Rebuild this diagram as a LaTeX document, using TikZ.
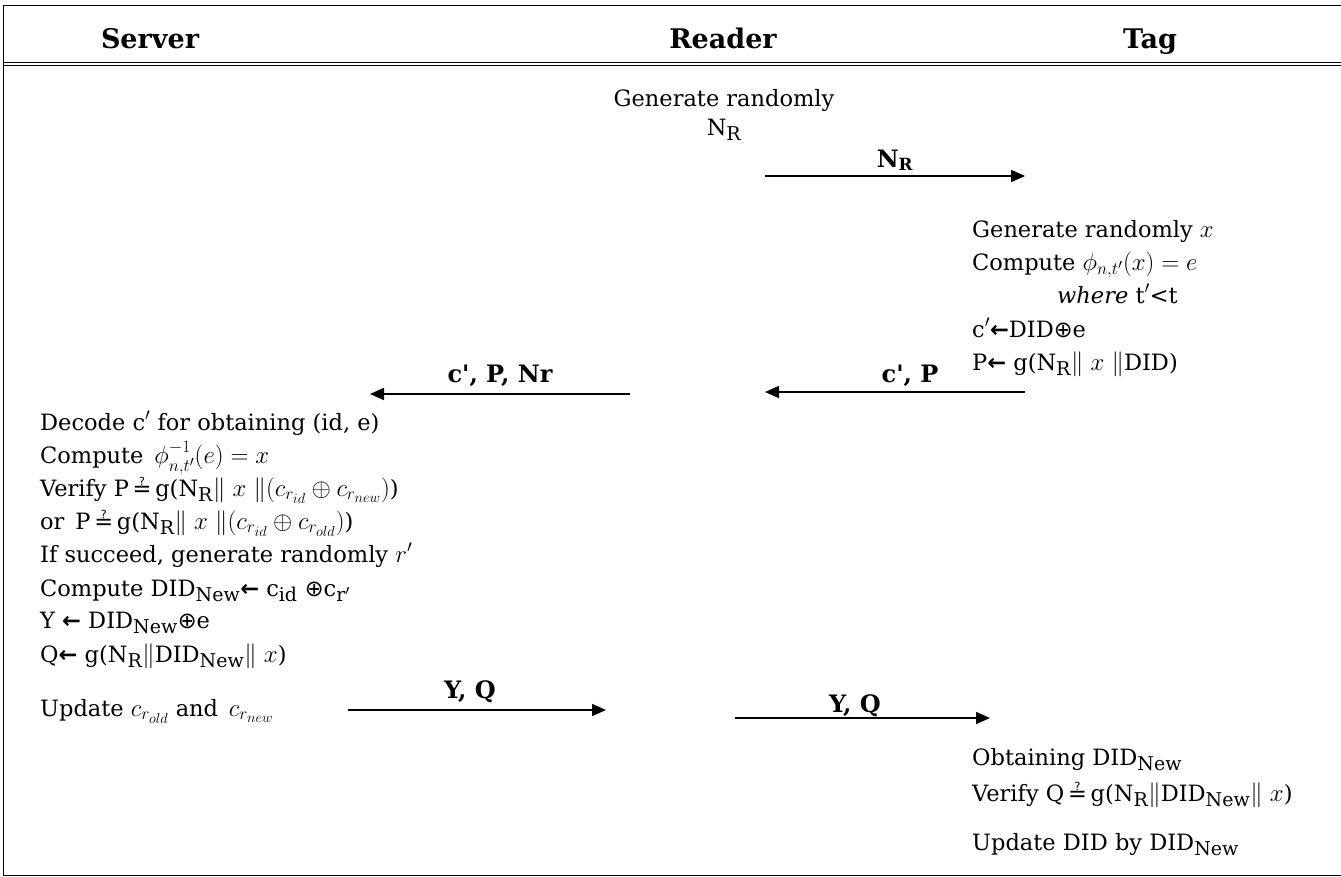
\documentclass[tikz,border=0pt]{standalone}
\usepackage{fontspec}
\usepackage{amsmath}
\setmainfont{DejaVu Serif}
\newfontfamily\symf{DejaVu Sans}
\usetikzlibrary{arrows.meta}
\DeclareMathSizes{22.5}{27}{19}{15}
\newcommand{\ls}[1]{\textsubscript{#1}}
\newcommand{\larr}{{\symf\bfseries ←}}
\newcommand{\xo}{{\symf ⊕}}
\newcommand{\qeq}{{\symf ≟}}
\begin{document}
\begin{tikzpicture}[x=1pt,y=-1pt,
  txt/.style={anchor=base west, inner sep=0pt, font=\fontsize{22.5}{28}\selectfont},
  ctxt/.style={anchor=base, inner sep=0pt, font=\fontsize{22.5}{28}\selectfont},
  hdr/.style={anchor=base, inner sep=0pt, font=\fontsize{27}{32}\selectfont\bfseries},
  lbl/.style={anchor=base, inner sep=0pt, font=\fontsize{24}{28}\selectfont\bfseries},
  msg/.style={line width=1.6pt, -{Triangle[length=14pt,width=12pt]}},
  frame/.style={line width=1pt}]
\useasboundingbox (0,0) rectangle (1341,876);
% frame
\draw[frame] (1341,5) -- (3,5) -- (3,875) -- (1341,875);
\draw[frame] (3,62) -- (1341,62);
\draw[line width=0.5pt] (3,65) -- (1341,65);
% headers
\node[hdr] (hs) at (150,48) {Server};
\node[hdr] (hr) at (723,48) {Reader};
\node[hdr] (ht) at (1150,48) {Tag};
% reader
\node[ctxt] (r1) at (724,106) {Generate randomly};
\node[ctxt] (r2) at (724,135) {N\ls{R}};
% msg 1
\coordinate (m1a) at (765,176);
\coordinate (m1b) at (1025,176);
\draw[msg] (m1a) -- (m1b);
\node[lbl] (l1) at (895,167) {N\ls{R}};
% tag block
\node[txt] (t1) at (972,237) {Generate randomly $x$};
\node[txt] (t2) at (972,270) {Compute $\phi_{n,t'}(x) = e$};
\node[txt] (t3) at (1057,303) {\textit{where} t$'$<t};
\node[txt] (t4) at (972,337) {c$'$\larr DID\xo e};
\node[txt] (t5) at (972,370) {P\larr\ g(N\ls{R}$\|$ $x$ $\|$DID)};
% msg 2,3
\coordinate (m2a) at (1025,392);
\coordinate (m2b) at (765,392);
\draw[msg] (m2a) -- (m2b);
\node[lbl] (l2) at (910,382) {c\textquotesingle, P};
\coordinate (m3a) at (630,394);
\coordinate (m3b) at (370,394);
\draw[msg] (m3a) -- (m3b);
\node[lbl] (l3) at (500,382) {c\textquotesingle, P, Nr};
% server block
\node[txt] (s1) at (40,430) {Decode c$'$ for obtaining (id, e)};
\node[txt] (s2) at (40,463) {Compute \,$\phi^{-1}_{n,t'}(e) = x$};
\node[txt] (s3) at (40,496) {Verify P\,\qeq\,g(N\ls{R}$\|$ $x$ $\|(c_{r_{id}} \oplus c_{r_{new}})$)};
\node[txt] (s4) at (40,529) {or \,P\,\qeq\,g(N\ls{R}$\|$ $x$ $\|(c_{r_{id}} \oplus c_{r_{old}})$)};
\node[txt] (s5) at (40,562) {If succeed, generate randomly $r'$};
\node[txt] (s6) at (40,596) {Compute DID\ls{New}\larr\ c\ls{id} \xo c\ls{r$'$}};
\node[txt] (s7) at (40,628) {Y \larr\ DID\ls{New}\xo e};
\node[txt] (s8) at (40,662) {Q\larr\ g(N\ls{R}$\|$DID\ls{New}$\|$ $x$)};
\node[txt] (s9) at (40,716) {Update $c_{r_{old}}$ and \,$c_{r_{new}}$};
% msg 4,5
\coordinate (m4a) at (348,710);
\coordinate (m4b) at (606,710);
\draw[msg] (m4a) -- (m4b);
\node[lbl] (l4) at (470,698) {Y, Q};
\coordinate (m5a) at (735,718);
\coordinate (m5b) at (990,718);
\draw[msg] (m5a) -- (m5b);
\node[lbl] (l5) at (855,712) {Y, Q};
% tag bottom
\node[txt] (b1) at (972,765) {Obtaining DID\ls{New}};
\node[txt] (b2) at (972,801) {Verify Q\,\qeq\,g(N\ls{R}$\|$DID\ls{New}$\|$ $x$)};
\node[txt] (b3) at (972,850) {Update DID by DID\ls{New}};
\end{tikzpicture}
\end{document}
